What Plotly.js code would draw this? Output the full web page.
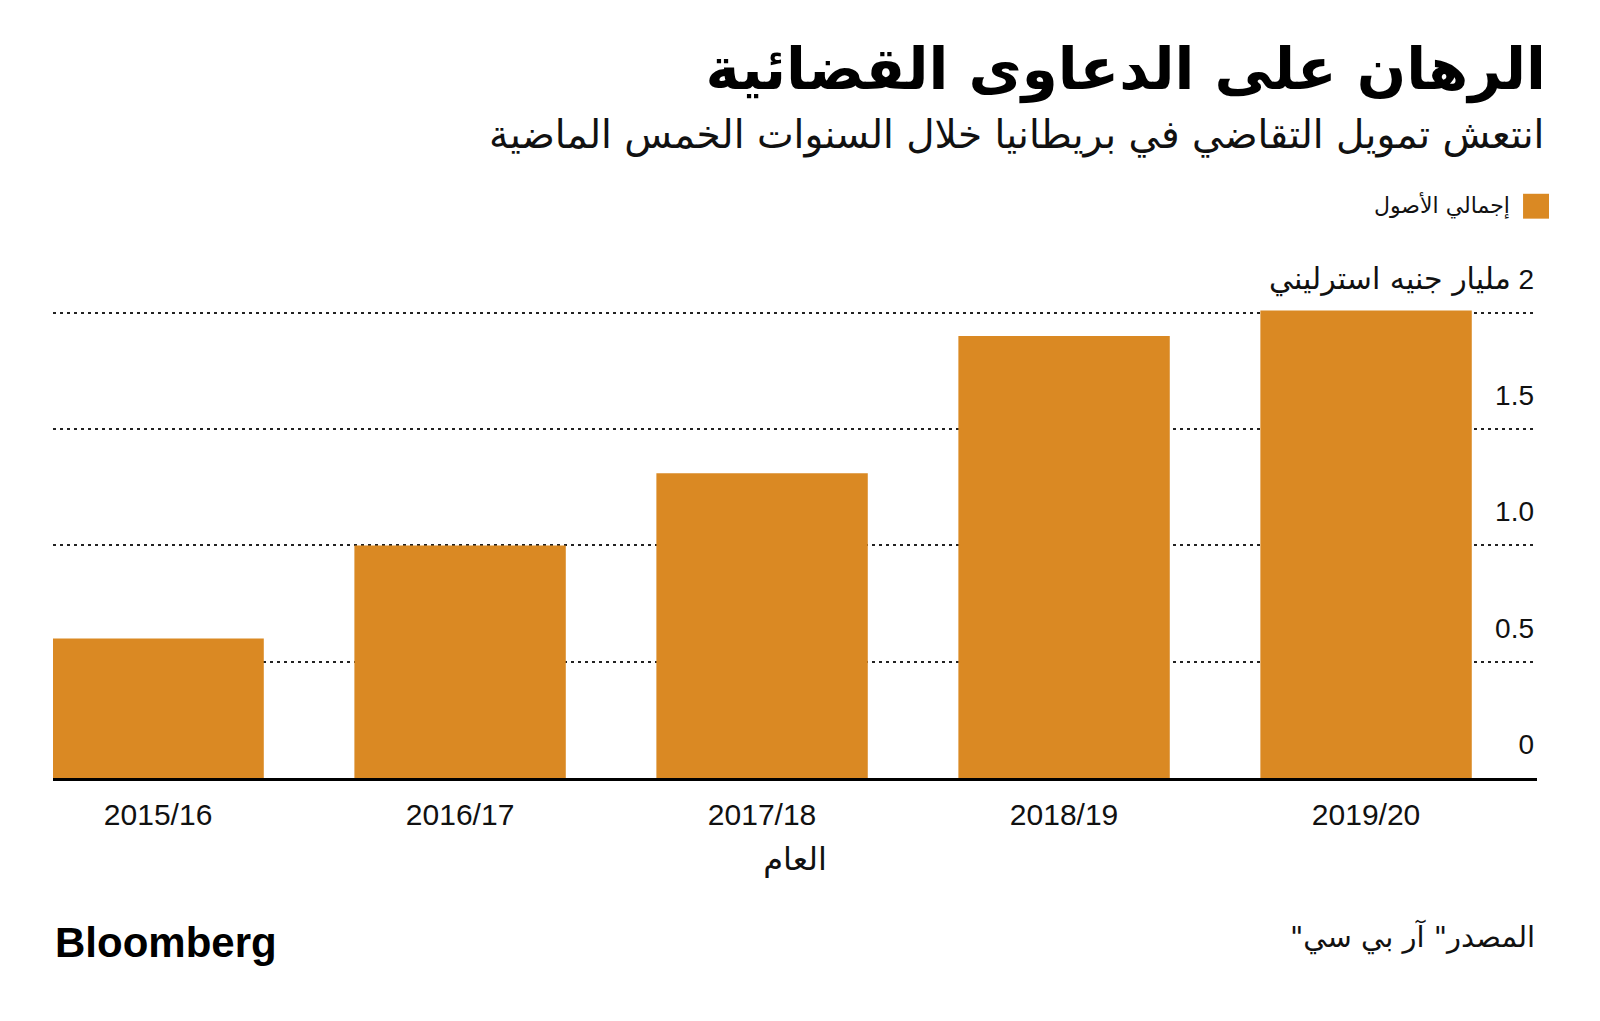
<!DOCTYPE html>
<html>
<head>
<meta charset="utf-8">
<script src="https://cdn.plot.ly/plotly-3.0.1.min.js"></script>
<style>
  body { margin: 0; background: #fff; }
  #chart { width: 1600px; height: 1021px; }
</style>
</head>
<body>
<div id="chart"></div>
<script>
// data (billion GBP)
const years = ['2015/16', '2016/17', '2017/18', '2018/19', '2019/20'];
const totalAssets = [0.60, 1.00, 1.31, 1.90, 2.01];
const seriesName = 'إجمالي الأصول';

const yTickVals = [0, 0.5, 1, 1.5, 2];
const yTickText = ['0', '0.5', '1.0', '1.5', '2'];
const yUnitText = 'مليار جنيه استرليني';

const titleText = 'الرهان على الدعاوى القضائية';
const subtitleText = 'انتعش تمويل التقاضي في بريطانيا خلال السنوات الخمس الماضية';
const xTitleText = 'العام';
const sourceText = 'المصدر" آر بي سي"\u200F';

const barColor = '#DA8923';
const arabicFont = 'DejaVu Sans, Liberation Sans, sans-serif';
const numFont = 'Liberation Sans, DejaVu Sans, sans-serif';
const labelShift = 34;

const layout = {
    width: 1600,
    height: 1021,
    margin: { l: 53, r: 63, t: 243, b: 243 },
    paper_bgcolor: '#fff',
    plot_bgcolor: '#fff',
    showlegend: false,
    bargap: 0.3,
    title: {
        text: '<b>' + titleText + '</b>',
        font: { family: arabicFont, size: 58, color: '#000' },
        xref: 'container', x: 1546 / 1600, xanchor: 'right',
        yref: 'container', y: 1 - 69 / 1021, yanchor: 'middle'
    },
    xaxis: {
        type: 'category',
        range: [-0.348, 4.566],
        showgrid: false,
        zeroline: false,
        showline: true,
        linecolor: '#000',
        linewidth: 3,
        ticks: '',
        ticklabelstandoff: 8,
        tickfont: { family: numFont, size: 30, color: '#111' },
        title: {
            text: xTitleText,
            font: { family: arabicFont, size: 32, color: '#111' },
            standoff: 18
        },
        fixedrange: true
    },
    yaxis: {
        range: [0, 2.3],
        side: 'right',
        tickvals: yTickVals,
        ticktext: yTickText,
        ticks: '',
        ticklabelposition: 'inside',
        ticklabelshift: -labelShift,
        tickfont: { family: numFont, size: 28, color: '#111' },
        showgrid: true,
        gridcolor: '#222',
        gridwidth: 2,
        griddash: '3px,4px',
        zeroline: false,
        showline: false,
        fixedrange: true
    },
    shapes: [
        {
            type: 'rect', xref: 'paper', yref: 'paper',
            x0: 0.9906, x1: 1.0081, y0: 1.0455, y1: 1.092,
            fillcolor: barColor, line: { width: 0 }
        }
    ],
    annotations: [
        {
            text: yUnitText,
            xref: 'paper', yref: 'y', x: 1, y: yTickVals[yTickVals.length - 1],
            xanchor: 'right', yanchor: 'middle', xshift: -24, yshift: labelShift,
            showarrow: false,
            font: { family: arabicFont, size: 30, color: '#111' }
        },
        {
            text: subtitleText,
            xref: 'paper', yref: 'paper', x: 1.006, y: (778 - 135) / 535,
            xanchor: 'right', yanchor: 'middle', showarrow: false,
            font: { family: arabicFont, size: 39, color: '#111' }
        },
        {
            text: seriesName,
            xref: 'paper', yref: 'paper', x: 0.983, y: 1.0697,
            xanchor: 'right', yanchor: 'middle', showarrow: false,
            font: { family: arabicFont, size: 22, color: '#111' }
        },
        {
            text: sourceText,
            xref: 'paper', yref: 'paper', x: 1, y: -0.2966,
            xanchor: 'right', yanchor: 'middle', showarrow: false,
            font: { family: arabicFont, size: 29, color: '#111' }
        },
        {
            text: '<b>Bloomberg</b>',
            xref: 'paper', yref: 'paper', x: 0, y: -0.308,
            xanchor: 'left', yanchor: 'middle', showarrow: false,
            font: { family: numFont, size: 42, color: '#000' }
        }
    ],
    font: { family: arabicFont, color: '#111' }
};

Plotly.newPlot('chart', [
    {
        name: seriesName,
        type: 'bar',
        x: years,
        y: totalAssets,
        marker: { color: barColor, line: { width: 0 } },
        hoverinfo: 'x+y'
    }
], layout, { displayModeBar: false, staticPlot: true });
</script>
</body>
</html>
